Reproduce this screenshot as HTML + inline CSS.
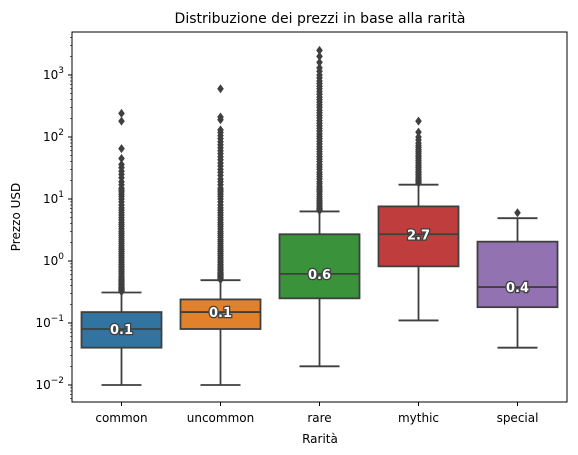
<!DOCTYPE html>
<html><head><meta charset="utf-8">
<style>
body{margin:0;background:#fff;}
svg{display:block;font-family:"DejaVu Sans","Liberation Sans",sans-serif;}
</style></head>
<body>
<svg id="chart" width="578" height="455">
<text x="320" y="23" font-size="14" text-anchor="middle" fill="#000">Distribuzione dei prezzi in base alla rarità</text>
<text x="320" y="443" font-size="12" text-anchor="middle">Rarità</text>
<text x="20" y="217" font-size="12" text-anchor="middle" transform="rotate(-90 20 217)">Prezzo USD</text>
<g id="plot"></g>
</svg>
<script>
const categories = ["common","uncommon","rare","mythic","special"];
const colors = ["#3274a1","#e1812c","#3a923a","#c03d3e","#9372b2"];
const whiskerLow = [0.01,0.01,0.02,0.11,0.04];
const q1 = [0.04,0.08,0.25,0.82,0.18];
const medians = [0.08,0.15,0.62,2.7,0.38];
const q3 = [0.15,0.24,2.7,7.6,2.05];
const whiskerHigh = [0.31,0.49,6.3,17,4.9];
const medianLabels = ["0.1","0.1","0.6","2.7","0.4"];
const outliers = [
 [0.32,0.33,0.34,0.35,0.36,0.37,0.38,0.4,0.42,0.44,0.46,0.48,0.5,0.53,0.56,0.6,0.64,0.68,0.72,0.77,0.82,0.88,0.94,1,1.07,1.15,1.23,1.32,1.42,1.52,1.63,1.75,1.9,2.05,2.2,2.4,2.6,2.8,3,3.3,3.6,3.9,4.2,4.6,5,5.5,6,6.6,7.2,8,9,10,11,12,13,14,15,17,19,22,25,28,32,36,45,65,180,240],
 [0.5,0.52,0.54,0.56,0.58,0.6,0.63,0.66,0.7,0.74,0.78,0.83,0.88,0.94,1,1.07,1.15,1.23,1.32,1.42,1.52,1.63,1.75,1.9,2.05,2.2,2.4,2.6,2.8,3,3.3,3.6,3.9,4.2,4.6,5,5.5,6,6.6,7.2,8,9,10,11,12,13,14,15,17,19,21,24,27,30,34,38,43,48,54,60,67,75,84,94,105,118,130,190,210,600],
 [6.5,6.8,7.1,7.5,8,8.5,9,9.6,10.3,11,12,13,14,15,16,17.5,19,21,23,25,27,30,33,36,40,44,48,53,58,64,70,77,85,94,103,113,125,138,152,167,184,203,223,245,270,300,330,365,400,440,490,540,600,660,730,800,900,1000,1150,1300,1600,2000,2500],
 [18,19,20,21,22,23.5,25,26.5,28,30,32,34,36.5,39,42,45,48,51,55,59,63,68,73,80,90,100,120,180],
 [6]
];
const yTicks = [-2,-1,0,1,2,3];

const L=72,R=567,T=32,B=402;
const NS="http://www.w3.org/2000/svg";
const g=document.getElementById('plot');
function y(v){return 261-62*Math.log10(v);}
function x(i){return L+(R-L)/categories.length*(i+0.5);}
function mk(tag,attrs,parent){const e=document.createElementNS(NS,tag);for(const k in attrs)e.setAttribute(k,attrs[k]);(parent||g).appendChild(e);return e;}
const bw=80;
categories.forEach((c,i)=>{
  const cx=x(i);
  const grp=mk('g',{});
  
  
  const w1=mk('line',{x1:cx,x2:cx,y1:y(whiskerLow[i]),y2:y(q1[i]),stroke:'#3f3f3f','stroke-width':1.8},grp);
  
  
  const w2=mk('line',{x1:cx,x2:cx,y1:y(q3[i]),y2:y(whiskerHigh[i]),stroke:'#3f3f3f','stroke-width':1.8},grp);
  
  
  [whiskerLow[i],whiskerHigh[i]].forEach(v=>{
    const cap=mk('line',{x1:cx-bw/4,x2:cx+bw/4,y1:y(v),y2:y(v),stroke:'#3f3f3f','stroke-width':1.8},grp);
    
    
  });
  const rect=mk('rect',{x:cx-bw/2,y:y(q3[i]),width:bw,height:y(q1[i])-y(q3[i]),fill:colors[i],stroke:'#3f3f3f','stroke-width':1.8},grp);
  
  
  const md=mk('line',{x1:cx-bw/2,x2:cx+bw/2,y1:y(medians[i]),y2:y(medians[i]),stroke:'#3f3f3f','stroke-width':1.8},grp);
  
  
  outliers[i].forEach(v=>{
    const yy=y(v);
    const d=mk('polygon',{points:`${cx},${yy-4.5} ${cx+3.3},${yy} ${cx},${yy+4.5} ${cx-3.3},${yy}`,fill:'#3f3f3f'},grp);
    
    
  });
  const t=mk('text',{x:cx,y:y(medians[i])+5,'text-anchor':'middle','font-size':13,'font-weight':'bold',fill:'#fff',stroke:'#3f3f3f','stroke-width':2.5,'paint-order':'stroke'},grp);
  t.textContent=medianLabels[i];
  
  
  const xl=mk('line',{x1:cx,x2:cx,y1:B,y2:B+4,stroke:'#000'});
  
  
  const xt=mk('text',{x:cx,y:B+20,'text-anchor':'middle','font-size':12});
  xt.textContent=c;
  
  
});
yTicks.forEach(p=>{
  const yy=y(Math.pow(10,p));
  const tk=mk('line',{x1:L-4,x2:L,y1:yy,y2:yy,stroke:'#000'});
  
  
  const t=mk('text',{x:L-8,y:yy+4,'text-anchor':'end','font-size':12});
  t.innerHTML='10<tspan dy="-6" font-size="9">'+(p<0?'\u2212'+(-p):p)+'</tspan>';
  
  
});
for(let p=-3;p<=3;p++){for(let m=2;m<=9;m++){const yy=y(m*Math.pow(10,p));if(yy<T||yy>B)continue;
  const mt=mk('line',{x1:L-2,x2:L,y1:yy,y2:yy,stroke:'#000','stroke-width':0.6});
  
  
}}
const frame=mk('rect',{x:L,y:T,width:R-L,height:B-T,fill:'none',stroke:'#000','stroke-width':1});


</script>
</body></html>
